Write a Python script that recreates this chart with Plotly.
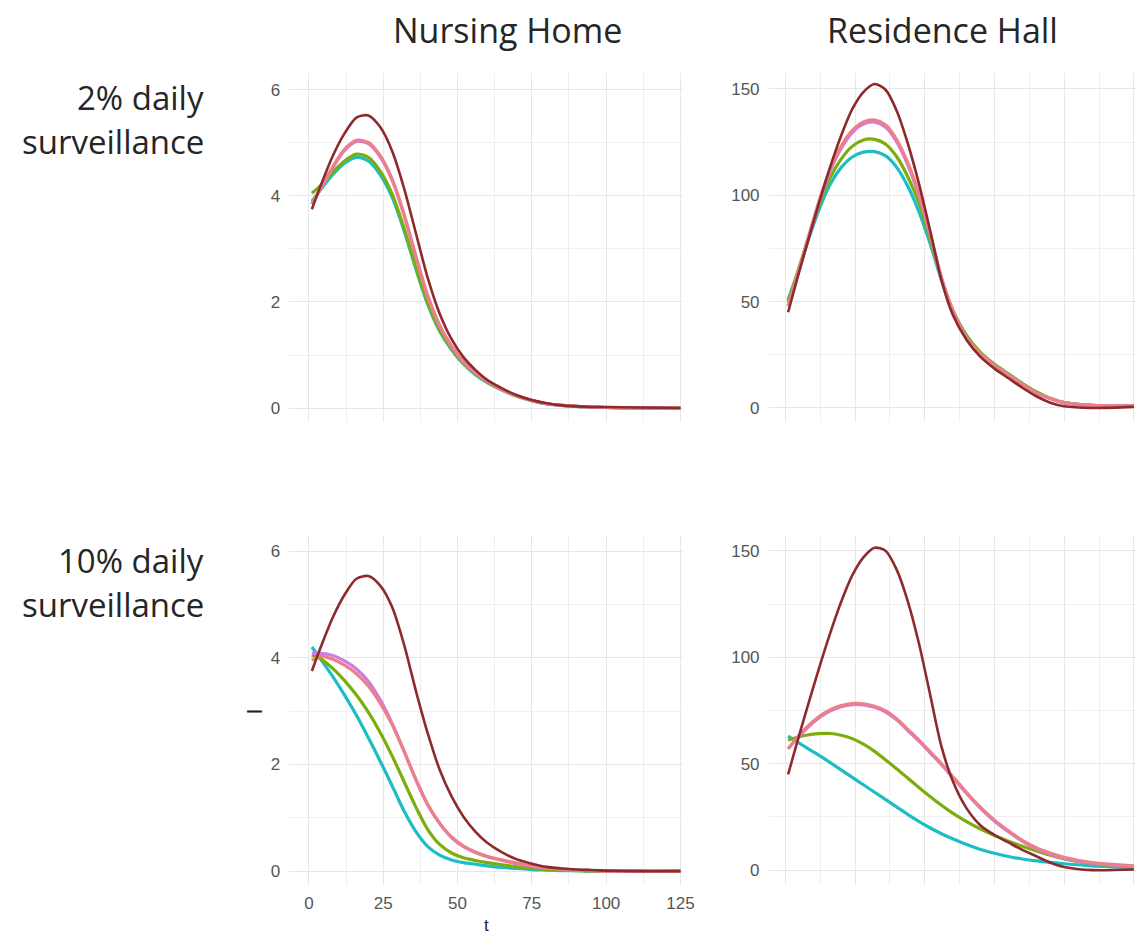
import plotly.graph_objects as go

# ---- data ----
T = [1, 4, 8, 12, 16, 20, 24, 28, 32, 36, 40, 44, 48, 52, 56, 60, 65, 70, 75, 80, 85, 90, 95, 100, 110, 125]
SERIES = ["cyan", "green", "violet", "pink", "darkred"]
COLORS = {"cyan": "#1CBEC6", "green": "#7BAE0C", "violet": "#CC7EE0", "pink": "#EE7F88", "darkred": "#8C2A2C"}

# Nursing Home, 2% daily surveillance
NH2_CYAN = [3.9, 4.12, 4.4, 4.62, 4.73, 4.66, 4.4, 3.98, 3.35, 2.62, 1.95, 1.45, 1.1, 0.83, 0.63, 0.48, 0.34, 0.22, 0.14, 0.08, 0.05, 0.03, 0.02, 0.01, 0, 0]
NH2_GREEN = [4.05, 4.2, 4.45, 4.66, 4.79, 4.73, 4.47, 4.04, 3.4, 2.66, 1.98, 1.47, 1.11, 0.84, 0.64, 0.49, 0.34, 0.22, 0.14, 0.08, 0.05, 0.03, 0.02, 0.01, 0, 0]
NH2_VIOLET = [3.85, 4.14, 4.53, 4.86, 5.03, 4.99, 4.74, 4.3, 3.64, 2.85, 2.1, 1.55, 1.16, 0.87, 0.66, 0.5, 0.35, 0.23, 0.14, 0.08, 0.05, 0.03, 0.02, 0.01, 0, 0]
NH2_PINK = [3.85, 4.15, 4.55, 4.88, 5.05, 5.01, 4.76, 4.32, 3.66, 2.87, 2.12, 1.56, 1.17, 0.88, 0.67, 0.51, 0.35, 0.23, 0.14, 0.08, 0.05, 0.03, 0.02, 0.01, 0, 0]
NH2_DARKRED = [3.75, 4.2, 4.75, 5.18, 5.48, 5.52, 5.3, 4.85, 4.15, 3.3, 2.45, 1.78, 1.3, 0.96, 0.72, 0.53, 0.37, 0.24, 0.15, 0.09, 0.05, 0.03, 0.02, 0.02, 0.01, 0]

# Residence Hall, 2% daily surveillance
RH2_CYAN = [51, 62, 78, 93, 105, 113, 118, 120.3, 120.5, 118.5, 113, 104, 92, 77, 60, 46, 34, 26, 20.5, 16, 11.5, 7.5, 4.5, 2.5, 1.2, 1]
RH2_GREEN = [50, 62, 79, 95, 108, 117, 123, 126, 126.3, 124, 118, 108.5, 96, 79, 61, 46, 34, 26, 20.5, 16, 11.5, 7.5, 4.5, 2.5, 1.2, 1]
RH2_VIOLET = [48, 60.5, 78.5, 96, 111, 122, 129.5, 133.5, 134.4, 132, 125, 114, 99.5, 81, 61, 46, 33, 25.5, 20, 15.5, 11, 7, 4.5, 2.5, 1.2, 1]
RH2_PINK = [48, 61, 79, 97, 112, 123, 130.5, 134.5, 135.4, 133, 126, 115, 100.5, 82, 61, 46, 33, 25.5, 20, 15.5, 11, 7, 4.5, 2.5, 1.2, 1]
RH2_DARKRED = [45, 59.5, 78, 96, 113, 128, 140.5, 148.5, 152.3, 149.5, 139.5, 124, 105, 83, 60, 44, 32, 24, 18.5, 14, 9.5, 5.5, 2.5, 0.8, 0, 0.5]

# Nursing Home, 10% daily surveillance
NH10_CYAN = [4.2, 3.97, 3.65, 3.3, 2.92, 2.5, 2.06, 1.6, 1.13, 0.74, 0.46, 0.3, 0.21, 0.16, 0.13, 0.1, 0.07, 0.05, 0.03, 0.02, 0.01, 0.01, 0, 0, 0, 0]
NH10_GREEN = [4.05, 3.98, 3.8, 3.57, 3.3, 2.98, 2.6, 2.16, 1.68, 1.2, 0.78, 0.5, 0.34, 0.25, 0.2, 0.16, 0.12, 0.08, 0.05, 0.03, 0.02, 0.01, 0, 0, 0, 0]
NH10_VIOLET = [4.08, 4.08, 4.04, 3.94, 3.79, 3.56, 3.21, 2.77, 2.25, 1.71, 1.24, 0.89, 0.63, 0.46, 0.35, 0.27, 0.2, 0.14, 0.09, 0.06, 0.04, 0.02, 0.01, 0, 0, 0]
NH10_PINK = [3.95, 4.03, 3.97, 3.86, 3.7, 3.47, 3.15, 2.75, 2.25, 1.72, 1.25, 0.9, 0.64, 0.47, 0.36, 0.28, 0.21, 0.15, 0.1, 0.06, 0.04, 0.02, 0.01, 0, 0, 0]
NH10_DARKRED = [3.75, 4.2, 4.75, 5.18, 5.48, 5.53, 5.35, 4.95, 4.25, 3.38, 2.58, 1.9, 1.4, 1.02, 0.74, 0.53, 0.35, 0.22, 0.14, 0.08, 0.05, 0.03, 0.02, 0.01, 0, 0]

# Residence Hall, 10% daily surveillance
RH10_CYAN = [63, 60.5, 57.2, 54, 50.6, 47.1, 43.6, 40.1, 36.6, 33.1, 29.6, 26.1, 22.8, 19.8, 17.1, 14.7, 12, 9.7, 7.9, 6.4, 5.2, 4.3, 3.6, 3, 2, 1.2]
RH10_GREEN = [61, 62.3, 63.5, 64.1, 64.2, 63.4, 61.8, 59.2, 55.8, 51.8, 47.5, 43.2, 38.7, 34.5, 30.5, 26.8, 22.8, 19.3, 16.3, 13.6, 11.2, 9, 7, 5.3, 3, 1.5]
RH10_VIOLET = [57, 61.5, 67, 71.5, 74.8, 76.8, 77.8, 77.7, 76.5, 74.3, 70.5, 65.5, 60.5, 55, 49.5, 43.5, 36, 29, 23, 18, 13.5, 10, 7.5, 5.5, 3.2, 1.8]
RH10_PINK = [57, 62, 67.5, 72, 75.3, 77.3, 78.3, 78.2, 77, 74.8, 71, 66, 61, 55.5, 50, 44, 36.5, 29.5, 23.5, 18.5, 14, 10.5, 8, 6, 3.5, 2]
RH10_DARKRED = [45, 59, 77, 94.5, 111, 126, 138.5, 147, 151.5, 150, 141, 126, 106, 82, 58, 42, 29, 21, 16.5, 13, 9.5, 6.5, 3.5, 1.5, 0, 0.3]

X_TICKS = [0, 25, 50, 75, 100, 125]
COL_TITLES = ["Nursing Home", "Residence Hall"]
ROW_TITLES = [["2% daily", "surveillance"], ["10% daily", "surveillance"]]

PANELS = {
    (1, 1): [NH2_CYAN, NH2_GREEN, NH2_VIOLET, NH2_PINK, NH2_DARKRED],
    (1, 2): [RH2_CYAN, RH2_GREEN, RH2_VIOLET, RH2_PINK, RH2_DARKRED],
    (2, 1): [NH10_CYAN, NH10_GREEN, NH10_VIOLET, NH10_PINK, NH10_DARKRED],
    (2, 2): [RH10_CYAN, RH10_GREEN, RH10_VIOLET, RH10_PINK, RH10_DARKRED],
}

# ---- layout geometry (page pixels; the page body adds an offset) ----
OFFX, OFFY = 4, 8
W, H = 1144 - OFFX, 935 - OFFY
def fx(px):
    return (px - OFFX) / W
def fy(py):
    return 1 - (py - OFFY) / H

XDOM = {1: (288, 686), 2: (772, 1144)}
YDOM = {1: (73, 422), 2: (535, 885)}
XRANGE = {1: [-6.6, 126.0], 2: [-6.0, 126.1]}
YRANGE = {(1, 1): [-0.264, 6.32], (1, 2): [-6.6, 157.5], (2, 1): [-0.26, 6.3], (2, 2): [-7.0, 157.5]}

fig = go.Figure()
GRID = "#E7E7E7"
MINOR = "#EFEFEF"
TICKFONT = dict(family="Liberation Sans, Arial, sans-serif", size=17, color="#555555")

idx = 0
for (r, c), data in PANELS.items():
    idx += 1
    sfx = "" if idx == 1 else str(idx)
    for name, ys in zip(SERIES, data):
        fig.add_trace(go.Scatter(
            x=T, y=ys, mode="lines", name=name, showlegend=False,
            line=dict(color=COLORS[name], width=2.6 if name == "darkred" else 3.2, shape="spline", smoothing=0.8),
            xaxis="x" + sfx, yaxis="y" + sfx, hoverinfo="skip"))
    x0, x1 = XDOM[c]
    y0, y1 = YDOM[r]
    is_left = c == 1
    ydt = 2 if is_left else 50
    fig.layout["xaxis" + sfx] = dict(
        domain=[fx(x0), min(fx(x1), 1.0)], range=XRANGE[c], anchor="y" + sfx,
        tickvals=X_TICKS, showticklabels=(r == 2 and c == 1),
        showgrid=True, gridcolor=GRID, gridwidth=1.3, zeroline=False, showline=False, ticks="",
        minor=dict(dtick=12.5, tick0=0, showgrid=True, gridcolor=MINOR, gridwidth=1.1),
        tickfont=TICKFONT, ticklabelstandoff=6)
    fig.layout["yaxis" + sfx] = dict(
        domain=[fy(y1), fy(y0)], range=YRANGE[(r, c)], anchor="x" + sfx,
        dtick=ydt, tick0=0, showgrid=True, gridcolor=GRID, gridwidth=1.3, zeroline=False, showline=False, ticks="",
        minor=dict(dtick=ydt / 2, tick0=0, showgrid=True, gridcolor=MINOR, gridwidth=1.1),
        tickfont=TICKFONT, ticklabelstandoff=8)

ann = []
TITLE_FONT = dict(family="Open Sans, Noto Sans, sans-serif", size=34, color="#262626")
ROW_FONT = dict(family="Open Sans, Noto Sans, sans-serif", size=33, color="#262626")
for txt, xc in zip(COL_TITLES, [508, 948]):
    ann.append(dict(text=txt, x=fx(xc), y=fy(30), xref="paper", yref="paper",
                    xanchor="center", yanchor="middle", showarrow=False, font=TITLE_FONT))
for lines, ys in zip(ROW_TITLES, [(97, 141), (560, 604)]):
    for txt, yc in zip(lines, ys):
        ann.append(dict(text=txt, x=fx(204), y=fy(yc), xref="paper", yref="paper",
                        xanchor="right", yanchor="middle", showarrow=False, font=ROW_FONT))
ann.append(dict(text="t", x=fx(487), y=fy(925), xref="paper", yref="paper", xanchor="center",
                yanchor="middle", showarrow=False,
                font=dict(family="Liberation Sans, Arial", size=17, color="#222222")))
ann.append(dict(text="I", x=fx(252), y=fy(712), xref="paper", yref="paper", xanchor="center",
                yanchor="middle", showarrow=False, textangle=-90,
                font=dict(family="Liberation Sans, Arial", size=22, color="#222222")))

fig.update_layout(width=W, height=H, margin=dict(l=0, r=0, t=0, b=0),
                  paper_bgcolor="white", plot_bgcolor="white", annotations=ann, showlegend=False)
fig.write_html("out.html")
